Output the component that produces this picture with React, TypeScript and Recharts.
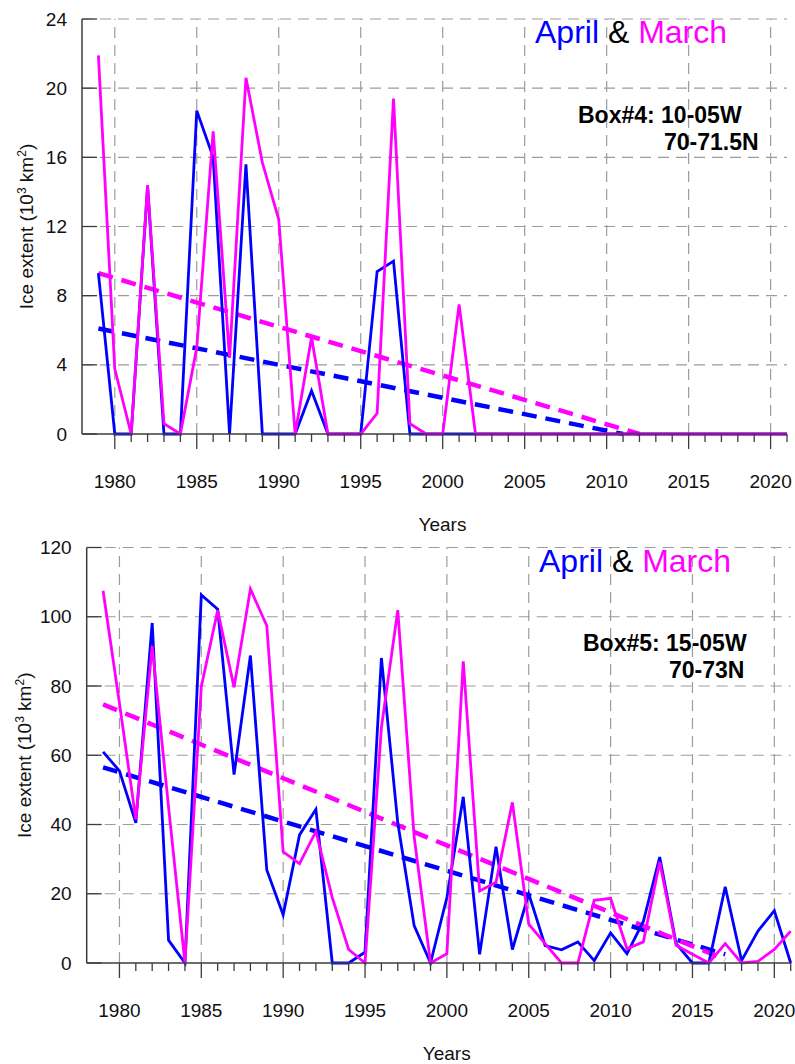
import { Line, LineChart, ReferenceLine, XAxis, YAxis } from 'recharts'

// Sea-ice extent, 10^3 km^2, one value per year
const years = [
  1979, 1980, 1981, 1982, 1983, 1984, 1985, 1986, 1987, 1988, 1989, 1990,
  1991, 1992, 1993, 1994, 1995, 1996, 1997, 1998, 1999, 2000, 2001, 2002,
  2003, 2004, 2005, 2006, 2007, 2008, 2009, 2010, 2011, 2012, 2013, 2014,
  2015, 2016, 2017, 2018, 2019, 2020, 2021,
]

const aprilBox4 = [
  9.3, 0, 0, 14.3, 0, 0, 18.7, 16.0, 0, 15.6, 0, 0,
  0, 2.5, 0, 0, 0, 9.4, 10.0, 0, 0, 0, 0, 0,
  0, 0, 0, 0, 0, 0, 0, 0, 0, 0, 0, 0,
  0, 0, 0, 0, 0, 0, 0,
]
const marchBox4 = [
  21.9, 3.75, 0, 14.4, 0.6, 0, 5.0, 17.5, 4.4, 20.6, 15.7, 12.4,
  0, 5.6, 0, 0, 0, 1.2, 19.4, 0.6, 0, 0, 7.5, 0,
  0, 0, 0, 0, 0, 0, 0, 0, 0, 0, 0, 0,
  0, 0, 0, 0, 0, 0, 0,
]

const aprilBox5 = [
  61.0, 55.5, 40.5, 98.2, 6.6, 0, 106.3, 102.2, 54.4, 88.8, 26.9, 13.9,
  37.0, 44.4, 0, 0, 3.1, 88.1, 40.5, 10.8, 0, 18.9, 48.0, 2.5,
  33.6, 3.9, 20.0, 5.0, 3.8, 6.1, 0.7, 8.7, 2.7, 12.0, 30.6, 5.6,
  0, 0, 22.0, 0.7, 9.2, 15.1, 0,
]
const marchBox5 = [
  107.5, 75.0, 41.5, 91.5, 45.0, 0, 79.8, 101.9, 79.6, 108.0, 97.4, 32.1,
  28.7, 38.0, 18.9, 3.9, 0, 68.0, 101.9, 36.5, 0, 2.7, 87.1, 20.8,
  23.3, 46.4, 11.2, 5.6, 0, 0, 18.1, 18.7, 4.1, 6.1, 29.2, 5.1,
  2.5, 0, 5.6, 0, 0.5, 3.9, 9.2,
]

// linear trends, start and end points
const aprilTrend4Years = [1979, 2011]
const aprilTrend4 = [6.1, 0]
const marchTrend4Years = [1979, 2012]
const marchTrend4 = [9.3, 0]
const aprilTrend5Years = [1979, 2017]
const aprilTrend5 = [56.5, 2.5]
const marchTrend5Years = [1979, 2017]
const marchTrend5 = [74.7, 1.0]

const majorYears = [1980, 1985, 1990, 1995, 2000, 2005, 2010, 2015, 2020]
const box4Ticks = [0, 4, 8, 12, 16, 20, 24]
const box5Ticks = [0, 20, 40, 60, 80, 100, 120]

const FONT = '"Liberation Sans", Arial, Helvetica, sans-serif'
const BLUE = '#0000ff'
const MAGENTA = '#ff00ff'
const GRID = '#9c9c9c'
const AXIS = '#3c3c3c'

const xTicks = years.filter((y) => y >= 1980)

const rows = (april: number[], march: number[]) =>
  years.map((year, i) => ({ year, april: april[i], march: march[i] }))

const trendRows = (ys: number[], vs: number[]) =>
  ys.map((year, i) => ({ year, v: vs[i] }))

function XTick(props: any) {
  const { x, y, payload } = props
  const major = payload.value % 5 === 0
  return (
    <g>
      <line
        x1={x}
        x2={x}
        y1={y}
        y2={y + (major ? 15 : 8)}
        stroke={AXIS}
        strokeWidth={1.3}
      />
      {major && (
        <text
          x={x}
          y={y + 54}
          textAnchor="middle"
          fontSize={19}
          fontFamily={FONT}
          fill="#111"
        >
          {payload.value}
        </text>
      )}
    </g>
  )
}

function YTick(props: any) {
  const { x, y, payload } = props
  return (
    <g>
      <line x1={x} x2={x + 15} y1={y} y2={y} stroke={AXIS} strokeWidth={1.3} />
      <text
        x={x - 15}
        y={y}
        dy="0.35em"
        textAnchor="end"
        fontSize={19}
        fontFamily={FONT}
        fill="#111"
      >
        {payload.value}
      </text>
    </g>
  )
}

interface PanelProps {
  height: number
  margin: { top: number; right: number; bottom: number; left: number }
  april: number[]
  march: number[]
  aprilTrend: { year: number; v: number }[]
  marchTrend: { year: number; v: number }[]
  yTicks: number[]
  labelX: number
  titleShift: number
}

function Panel({
  height,
  margin,
  april,
  march,
  aprilTrend,
  marchTrend,
  yTicks,
  labelX,
  titleShift,
}: PanelProps) {
  const yMax = yTicks[yTicks.length - 1]
  return (
    <LineChart width={795} height={height} data={rows(april, march)} margin={margin}>
      <XAxis
        dataKey="year"
        type="number"
        domain={[1978, 2021]}
        ticks={xTicks}
        interval={0}
        height={60}
        tickSize={0}
        tickMargin={0}
        tickLine={false}
        tick={<XTick />}
        axisLine={{ stroke: AXIS, strokeWidth: 1.5 }}
        label={{
          content: (p: any) => {
            const vb = p.viewBox
            return (
              <text
                x={vb.x + vb.width / 2 + titleShift}
                y={vb.y + 97}
                textAnchor="middle"
                fontSize={19}
                fontFamily={FONT}
                fill="#111"
              >
                Years
              </text>
            )
          },
        }}
      />
      <YAxis
        type="number"
        domain={[0, yMax]}
        ticks={yTicks}
        interval={0}
        width={60}
        tickSize={0}
        tickMargin={0}
        tickLine={false}
        tick={<YTick />}
        axisLine={{ stroke: AXIS, strokeWidth: 1.5 }}
        label={{
          content: (p: any) => {
            const vb = p.viewBox
            const cy = vb.y + vb.height / 2
            return (
              <text
                transform={`translate(${labelX}, ${cy}) rotate(-90)`}
                textAnchor="middle"
                fontSize={19}
                fontFamily={FONT}
                fill="#111"
              >
                <tspan>Ice extent (10</tspan>
                <tspan dy={-7} fontSize={12}>3</tspan>
                <tspan dy={7}> km</tspan>
                <tspan dy={-7} fontSize={12}>2</tspan>
                <tspan dy={7}>)</tspan>
              </text>
            )
          },
        }}
      />

      {yTicks.slice(1).map((v) => (
        <ReferenceLine
          key={`h${v}`}
          y={v}
          stroke={GRID}
          strokeWidth={1.2}
          strokeDasharray="11 7"
        />
      ))}
      {majorYears.map((yr) => (
        <ReferenceLine
          key={`v${yr}`}
          x={yr}
          stroke={GRID}
          strokeWidth={1.2}
          strokeDasharray="11 7"
        />
      ))}

      <Line
        data={aprilTrend}
        dataKey="v"
        stroke={BLUE}
        strokeWidth={4.5}
        strokeDasharray="15 9"
        dot={false}
        activeDot={false}
        isAnimationActive={false}
      />
      <Line
        data={marchTrend}
        dataKey="v"
        stroke={MAGENTA}
        strokeWidth={4.5}
        strokeDasharray="15 9"
        dot={false}
        activeDot={false}
        isAnimationActive={false}
      />
      <Line
        dataKey="april"
        type="linear"
        stroke={BLUE}
        strokeWidth={2.8}
        dot={false}
        activeDot={false}
        isAnimationActive={false}
      />
      <Line
        dataKey="march"
        type="linear"
        stroke={MAGENTA}
        strokeWidth={2.8}
        dot={false}
        activeDot={false}
        isAnimationActive={false}
      />
    </LineChart>
  )
}

function Heading({ x, y }: { x: number; y: number }) {
  return (
    <text x={x} y={y} fontSize={32} fontFamily={FONT} style={{ whiteSpace: 'pre' }}>
      <tspan fill={BLUE}>April</tspan>
      <tspan fill="#000">{' & '}</tspan>
      <tspan fill={MAGENTA}>March</tspan>
    </text>
  )
}

function BoxNote({
  x1,
  x2,
  y,
  line1,
  line2,
}: {
  x1: number
  x2: number
  y: number
  line1: string
  line2: string
}) {
  return (
    <g fontSize={23} fontWeight="bold" fontFamily={FONT} fill="#000">
      <text x={x1} y={y}>
        {line1}
      </text>
      <text x={x2} y={y + 27}>
        {line2}
      </text>
    </g>
  )
}

export default function App() {
  return (
    <div
      style={{
        position: 'absolute',
        left: 0,
        top: 0,
        width: 795,
        height: 1064,
        background: '#fff',
      }}
    >
      <div style={{ position: 'absolute', left: 0, top: 0 }}>
        <Panel
          height={545}
          margin={{ top: 19, right: 8, bottom: 51, left: 22 }}
          april={aprilBox4}
          march={marchBox4}
          aprilTrend={trendRows(aprilTrend4Years, aprilTrend4)}
          marchTrend={trendRows(marchTrend4Years, marchTrend4)}
          yTicks={box4Ticks}
          labelX={33}
          titleShift={8}
        />
      </div>
      <div style={{ position: 'absolute', left: 0, top: 528 }}>
        <Panel
          height={536}
          margin={{ top: 19.5, right: 4.3, bottom: 41, left: 26.7 }}
          april={aprilBox5}
          march={marchBox5}
          aprilTrend={trendRows(aprilTrend5Years, aprilTrend5)}
          marchTrend={trendRows(marchTrend5Years, marchTrend5)}
          yTicks={box5Ticks}
          labelX={31}
          titleShift={8}
        />
      </div>
      <svg
        width={795}
        height={1064}
        style={{ position: 'absolute', left: 0, top: 0, pointerEvents: 'none' }}
      >
        <Heading x={535} y={43} />
        <BoxNote x1={578} x2={664} y={123} line1="Box#4: 10-05W" line2="70-71.5N" />
        <Heading x={539} y={572} />
        <BoxNote x1={583} x2={669} y={651} line1="Box#5: 15-05W" line2="70-73N" />
      </svg>
    </div>
  )
}
